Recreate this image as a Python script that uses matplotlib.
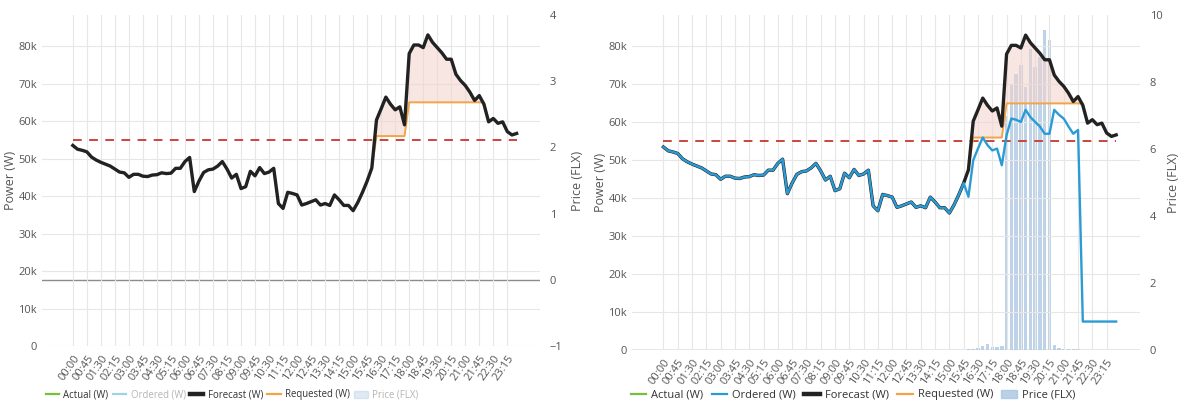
import numpy as np
import matplotlib
matplotlib.use("Agg")
import matplotlib.pyplot as plt
from matplotlib.ticker import FuncFormatter
from matplotlib.lines import Line2D
from matplotlib.patches import Patch

plt.rcParams['font.family'] = ['Open Sans', 'DejaVu Sans']

# 15 minute slots over one day
slots = [f"{(15 * i) // 60:02d}:{(15 * i) % 60:02d}" for i in range(96)]

# forecast power in kW
forecast_kw = [
    53.5, 52.5, 52.2, 51.8, 50.4, 49.6, 49.0, 48.5, 48.0, 47.2, 46.4, 46.2,
    45.0, 45.8, 45.8, 45.3, 45.2, 45.6, 45.7, 46.2, 46.0, 46.1, 47.4, 47.4,
    49.2, 50.3, 41.2, 44.0, 46.3, 47.0, 47.2, 48.0, 49.2, 47.2, 44.8, 45.8,
    42.0, 42.5, 46.6, 45.4, 47.6, 46.0, 46.4, 47.4, 38.0, 36.7, 41.0, 40.7,
    40.3, 37.6, 38.0, 38.5, 39.0, 37.6, 38.0, 37.5, 40.3, 39.0, 37.5, 37.5,
    36.1, 38.3, 41.0, 44.0, 47.5, 60.3, 63.3, 66.4, 64.5, 63.0, 63.8, 59.0,
    78.0, 80.3, 80.3, 79.6, 83.0, 81.0, 79.6, 78.2, 76.5, 76.5, 72.5, 70.8,
    69.5, 67.7, 65.5, 66.8, 64.5, 59.8, 60.7, 59.4, 59.8, 57.2, 56.3, 56.7,
]

# requested: follows the forecast, capped at 56k then 65k in the flex window
requested_kw = forecast_kw[:65] + [56.0] * 7 + [65.0] * 17 + forecast_kw[89:]

# ordered (right chart only)
ordered_kw = forecast_kw[:64] + [
    40.4, 50.0, 53.1, 56.0, 54.0, 52.6, 53.1, 48.7, 56.6, 61.0, 60.7, 60.1,
    63.3, 61.4, 60.1, 58.9, 57.0, 57.0, 63.3, 62.0, 61.0, 58.9, 57.0, 58.0,
] + [7.5] * 8

# price in FLX (right chart only)
price_flx = [0.0] * 63 + [
    0.01, 0.02, 0.03, 0.06, 0.12, 0.17, 0.10, 0.08, 0.12,
    7.0, 7.9, 8.25, 8.5, 7.85, 9.0, 8.45, 8.75, 9.55, 9.25,
    0.15, 0.05, 0.04, 0.04, 0.03, 0.03,
] + [0.0] * 8

limit_kw = 55.0

C_ACTUAL = '#74c13c'
C_ORDERED = '#2a9bd4'
C_FORECAST = '#222222'
C_REQ = '#f2a446'
C_PRICE = '#a9c5e1'
C_LIMIT = '#c8463d'
C_FILL = '#f3d2cd'


def kfmt(v, pos):
    return "0" if v == 0 else f"{v / 1000:.0f}k"


def draw_panel(ax, price_lim, price_ticks, show_ordered, leg_x, leg_fs, leg_sp, ylab_pad):
    x = np.arange(len(slots))
    fc = np.array(forecast_kw) * 1000
    req = np.array(requested_kw) * 1000

    ax2 = ax.twinx()
    ax.set_zorder(ax2.get_zorder() + 1)
    ax.patch.set_visible(False)

    ax2.axhline(0, color='#8c8c8c', lw=1.0, zorder=0)
    if show_ordered:
        ax2.bar(x, price_flx, width=0.72, color=C_PRICE, alpha=0.75, lw=0)
    ax2.set_ylim(*price_lim)
    ax2.set_yticks(price_ticks)
    ax2.set_ylabel('Price (FLX)', color='#555555', fontsize=9, labelpad=ylab_pad)

    ax.fill_between(x, req, fc, where=fc > req, interpolate=True,
                    color=C_FILL, alpha=0.55, lw=0, zorder=2)
    ax.hlines(limit_kw * 1000, x[0], x[-1], color=C_LIMIT, lw=1.4,
              linestyles=(0, (4.5, 3.8)), zorder=3)
    ax.plot(x, req, color=C_REQ, lw=1.4, zorder=3)
    ax.plot(x, fc, color=C_FORECAST, lw=2.4, zorder=4)
    if show_ordered:
        ax.plot(x, np.array(ordered_kw) * 1000, color=C_ORDERED, lw=1.7, zorder=5)

    ax.set_xlim(-6.6, 100)
    ax.set_ylim(0, 88300)
    ax.set_yticks(range(0, 80001, 10000))
    ax.yaxis.set_major_formatter(FuncFormatter(kfmt))
    ax.set_xticks(x[::3])
    ax.set_xticklabels(slots[::3], rotation=55, ha='right',
                       rotation_mode='anchor', fontsize=7.3, color='#555555')
    ax.set_ylabel('Power (W)', color='#555555', fontsize=9, labelpad=1)
    ax.grid(color='#e7e7e7', lw=0.8)
    ax.set_axisbelow(True)

    for a in (ax, ax2):
        for s in a.spines.values():
            s.set_visible(False)
        a.tick_params(length=0, labelsize=8, colors='#555555')
    ax.tick_params(axis='x', pad=5)
    ax2.tick_params(pad=7)

    dim = 0.45 if not show_ordered else 1.0
    handles = [
        Line2D([], [], color=C_ACTUAL, lw=1.6),
        Line2D([], [], color=C_ORDERED, lw=1.6, alpha=dim),
        Line2D([], [], color=C_FORECAST, lw=3.2),
        Line2D([], [], color=C_REQ, lw=1.6),
        Patch(color=C_PRICE, alpha=0.8 * dim),
    ]
    labels = ['Actual (W)', 'Ordered (W)', 'Forecast (W)', 'Requested (W)', 'Price (FLX)']
    leg = ax.figure.legend(handles, labels, loc='center', ncol=5, frameon=False,
                           bbox_to_anchor=(leg_x, 1 - 395 / 403), fontsize=leg_fs,
                           handlelength=1.4, handletextpad=0.45, columnspacing=leg_sp,
                           borderpad=0.2)
    for i, t in enumerate(leg.get_texts()):
        hidden = (not show_ordered) and i in (1, 4)
        t.set_color('#b5b5b5' if hidden else '#333333')


fig = plt.figure(figsize=(11.8, 4.03), dpi=100)
ax_l = fig.add_axes([42 / 1180, 1 - 346 / 403, 498 / 1180, 331 / 403])
ax_r = fig.add_axes([632 / 1180, 1 - 350 / 403, 508 / 1180, 335 / 403])

draw_panel(ax_l, (-1, 4), [-1, 0, 1, 2, 3, 4], False, 232 / 1180, 6.9, 0.45, 6)
draw_panel(ax_r, (0, 10), [0, 2, 4, 6, 8, 10], True, 853 / 1180, 8.0, 0.75, 3)

fig.savefig('out.png', dpi=100)
